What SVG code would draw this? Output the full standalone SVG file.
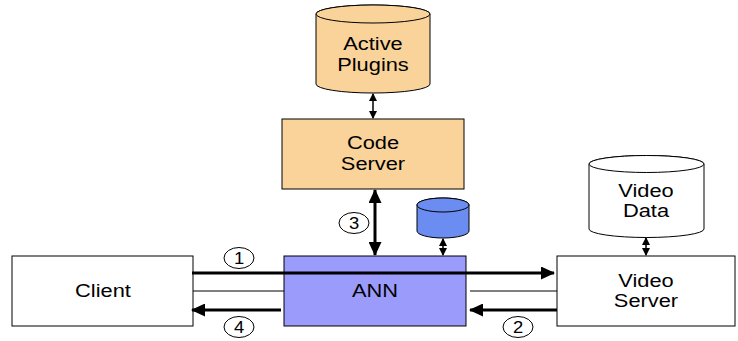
<svg xmlns="http://www.w3.org/2000/svg" width="738" height="341" viewBox="0 0 738 341">
<style>
text{font-family:"Liberation Sans",Arial,sans-serif;font-size:18.5px;fill:#000;text-anchor:middle}
.n{font-size:16px}
.box{stroke:#000;stroke-width:1}
.thick{stroke:#000;stroke-width:3;fill:none}
.thin{stroke:#000;stroke-width:1;fill:none}
.med{stroke:#000;stroke-width:1.5;fill:none}
.num{fill:#fff;stroke:#000;stroke-width:1}
</style>
<defs>
<marker id="ah" markerWidth="14" markerHeight="13" refX="13" refY="6.5" orient="auto-start-reverse" markerUnits="userSpaceOnUse">
<path d="M0,0 L14,6.5 L0,13 Z" fill="#000"/>
</marker>
<marker id="ahs" markerWidth="8" markerHeight="8" refX="7" refY="4" orient="auto-start-reverse" markerUnits="userSpaceOnUse">
<path d="M0,0 L8,4 L0,8 Z" fill="#000"/>
</marker>
</defs>
<g id="active-plugins">
<path class="box" fill="#fad39a" d="M316,14 L316,84 A57,9 0 0 0 430,84 L430,14 A57,9 0 0 0 316,14 Z"/>
<ellipse class="box" fill="#fad39a" cx="373" cy="14" rx="57" ry="9"/>
<g transform="translate(373,0) scale(1.18,1)"><text x="0" y="50">Active</text><text x="0" y="71">Plugins</text></g>
</g>
<g id="code-server">
<rect class="box" fill="#fad39a" x="282" y="119" width="182" height="70"/>
<g transform="translate(373,0) scale(1.18,1)"><text x="0" y="149">Code</text><text x="0" y="170">Server</text></g>
</g>
<g id="ann-store">
<path class="box" fill="#6b8cf0" d="M417,205 L417,231 A26,7 0 0 0 469,231 L469,205 A26,7 0 0 0 417,205 Z"/>
<ellipse class="box" fill="#6b8cf0" cx="443" cy="205" rx="26" ry="7"/>
</g>
<g id="video-data">
<path class="box" fill="#fff" d="M589,164 L589,229 A57.5,8.5 0 0 0 704,229 L704,164 A57.5,8.5 0 0 0 589,164 Z"/>
<ellipse class="box" fill="#fff" cx="646.5" cy="164" rx="57.5" ry="8.5"/>
<g transform="translate(646,0) scale(1.18,1)"><text x="0" y="197">Video</text><text x="0" y="217">Data</text></g>
</g>
<g id="client">
<rect class="box" fill="#fff" x="12" y="256" width="181" height="70"/>
<g transform="translate(103,0) scale(1.18,1)"><text x="0" y="297">Client</text></g>
</g>
<g id="ann">
<rect class="box" fill="#9b9bfb" x="284" y="256" width="182" height="70"/>
<g transform="translate(375,0) scale(1.18,1)"><text x="0" y="297">ANN</text></g>
</g>
<g id="video-server">
<rect class="box" fill="#fff" x="557" y="256" width="178" height="70"/>
<g transform="translate(646,0) scale(1.18,1)"><text x="0" y="287">Video</text><text x="0" y="307">Server</text></g>
</g>
<g id="connectors">
<line class="med" x1="373" y1="94" x2="373" y2="118" marker-start="url(#ahs)" marker-end="url(#ahs)"/>
<line class="thick" x1="375" y1="190" x2="375" y2="255" marker-start="url(#ah)" marker-end="url(#ah)"/>
<line class="med" x1="443" y1="239" x2="443" y2="255" marker-start="url(#ahs)" marker-end="url(#ahs)"/>
<line class="med" x1="646" y1="238" x2="646" y2="255" marker-start="url(#ahs)" marker-end="url(#ahs)"/>
<line class="thick" x1="192" y1="273" x2="554" y2="273" marker-end="url(#ah)"/>
<line class="thin" x1="193" y1="291" x2="284" y2="291"/>
<line class="thin" x1="470" y1="291" x2="557" y2="291"/>
<line class="thick" x1="281" y1="310" x2="192" y2="310" marker-end="url(#ah)"/>
<line class="thick" x1="557" y1="310" x2="470" y2="310" marker-end="url(#ah)"/>
<ellipse class="num" cx="239" cy="258" rx="15" ry="10.5"/>
<g transform="translate(239,0) scale(1.15,1)"><text class="n" x="0" y="264">1</text></g>
<ellipse class="num" cx="518" cy="327" rx="15" ry="10.5"/>
<g transform="translate(518,0) scale(1.15,1)"><text class="n" x="0" y="333">2</text></g>
<ellipse class="num" cx="354" cy="223" rx="15" ry="10.5"/>
<g transform="translate(354,0) scale(1.15,1)"><text class="n" x="0" y="229">3</text></g>
<ellipse class="num" cx="239" cy="327" rx="15" ry="10.5"/>
<g transform="translate(239,0) scale(1.15,1)"><text class="n" x="0" y="333">4</text></g>
</g>
</svg>
